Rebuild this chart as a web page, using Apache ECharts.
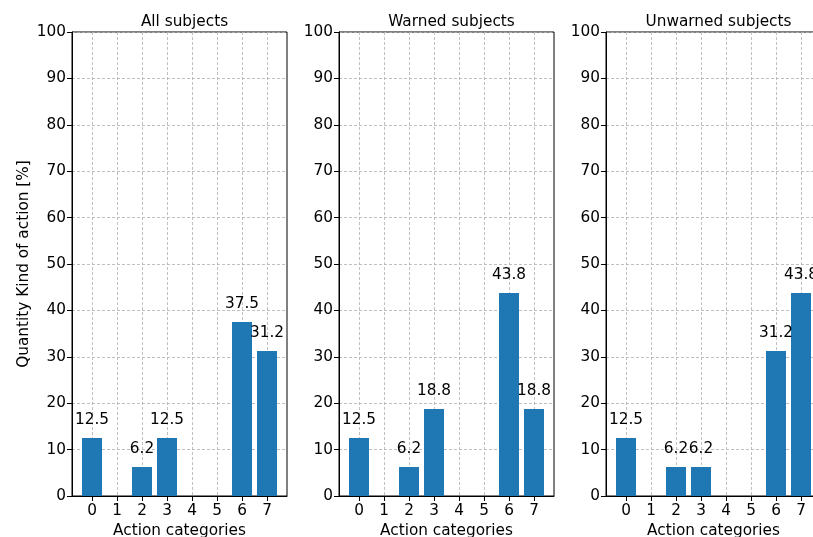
<!DOCTYPE html>
<html>
<head>
<meta charset="utf-8">
<script src="https://cdn.jsdelivr.net/npm/echarts@6/dist/echarts.min.js"></script>
<style>html,body{margin:0;padding:0;background:#fff}#c{width:813px;height:537px}</style>
</head>
<body>
<div id="c"></div>
<script>
const categories = [0, 1, 2, 3, 4, 5, 6, 7];
const yTicks = [0, 10, 20, 30, 40, 50, 60, 70, 80, 90, 100];
const titles = ['All subjects', 'Warned subjects', 'Unwarned subjects'];
const allSubjects = [12.5, 0, 6.25, 12.5, 0, 0, 37.5, 31.25];
const warnedSubjects = [12.5, 0, 6.25, 18.75, 0, 0, 43.75, 18.75];
const unwarnedSubjects = [12.5, 0, 6.25, 6.25, 0, 0, 31.25, 43.75];
const xName = 'Action categories';
const yName = 'Quantity Kind of action [%]';

const seriesValues = [allSubjects, warnedSubjects, unwarnedSubjects];
const FONT = 'DejaVu Sans';
const FS = 15.3;
const lefts = [72, 339, 606];
const W = 215;

// Python-style round-half-even to one decimal
function fmt(v) {
  const s = v * 10;
  const f = Math.floor(s);
  const d = s - f;
  let n;
  if (Math.abs(d - 0.5) < 1e-9) n = (f % 2 === 0) ? f : f + 1;
  else n = Math.round(s);
  return (n / 10).toFixed(1);
}

const grid = [], xAxis = [], yAxis = [], series = [], title = [];
for (let i = 0; i < 3; i++) {
  grid.push({left: lefts[i], top: 32, width: W, height: 464, show: true,
    borderColor: '#000', borderWidth: 1, backgroundColor: 'transparent',
    containLabel: false, outerBoundsMode: 'none'});
  title.push({text: titles[i], left: lefts[i] + W / 2, top: 10, textAlign: 'center',
    textStyle: {fontFamily: FONT, fontSize: FS, fontWeight: 'normal', color: '#000'}});
  xAxis.push({type: 'value', gridIndex: i, min: -0.8, max: 7.8,
    name: xName, nameLocation: 'middle', nameGap: 27,
    nameTextStyle: {fontFamily: FONT, fontSize: FS, color: '#000'},
    axisLine: {show: true, onZero: false, lineStyle: {color: '#000', width: 1}},
    axisTick: {show: true, length: 5, customValues: categories, lineStyle: {color: '#000'}},
    axisLabel: {customValues: categories, fontFamily: FONT, fontSize: FS, color: '#000', margin: 8,
      formatter: v => String(v)},
    splitLine: {show: true, lineStyle: {color: '#b0b0b0', type: [3, 2], width: 0.8}}
  });
  yAxis.push({type: 'value', gridIndex: i, min: 0, max: 100, interval: 10,
    name: i === 0 ? yName : '', nameLocation: 'middle', nameGap: 40,
    nameTextStyle: {fontFamily: FONT, fontSize: FS, color: '#000'},
    axisLine: {show: true, onZero: false, lineStyle: {color: '#000', width: 1}},
    axisTick: {show: true, length: 5, lineStyle: {color: '#000'}},
    axisLabel: {fontFamily: FONT, fontSize: FS, color: '#000', margin: 6,
      formatter: v => (yTicks.includes(v) ? String(v) : '')},
    splitLine: {show: true, lineStyle: {color: '#b0b0b0', type: [3, 2], width: 0.8}}
  });
  series.push({type: 'bar', xAxisIndex: i, yAxisIndex: i, barWidth: 20,
    itemStyle: {color: '#1f77b4'},
    data: categories.map((c, k) => [c, seriesValues[i][k]]),
    label: {show: true, position: 'top', distance: 10, fontFamily: FONT, fontSize: FS, color: '#000',
      formatter: p => (p.value[1] > 0 ? fmt(p.value[1]) : '')},
    labelLayout: {hideOverlap: false},
    animation: false
  });
}

const chart = echarts.init(document.getElementById('c'), null, {renderer: 'canvas'});
chart.setOption({animation: false, backgroundColor: '#fff', title, grid, xAxis, yAxis, series});
</script>
</body>
</html>
